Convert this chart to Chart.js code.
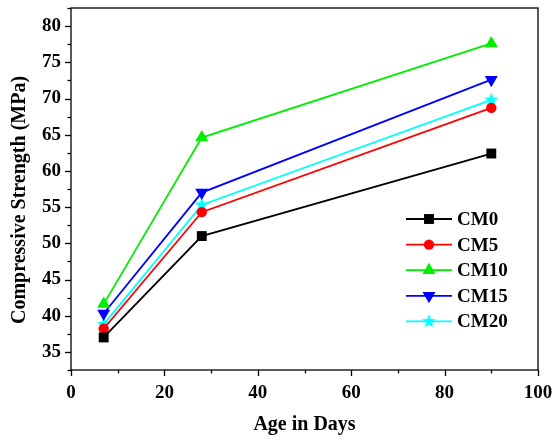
<!DOCTYPE html>
<html><head><meta charset="utf-8">
<script src="https://cdn.jsdelivr.net/npm/chart.js@4/dist/chart.umd.min.js"></script>
<style>html,body{margin:0;padding:0;background:#fff}#wrap{width:555px;height:441px}</style>
</head><body><div id="wrap"><canvas id="c" width="555" height="441"></canvas></div>
<script>
const ages = [7, 28, 90];
const seriesNames = ['CM0', 'CM5', 'CM10', 'CM15', 'CM20'];
const cm0 = [37.0, 51.0, 62.4];
const cm5 = [38.2, 54.3, 68.7];
const cm10 = [41.6, 64.6, 77.6];
const cm15 = [40.3, 57.0, 72.6];
const cm20 = [38.8, 55.3, 69.8];
const xMajorTicks = [0, 20, 40, 60, 80, 100];
const yMajorTicks = [35, 40, 45, 50, 55, 60, 65, 70, 75, 80];
const xTitle = 'Age in Days';
const yTitle = 'Compressive Strength (MPa)';

const FONT = '"Liberation Serif", "Times New Roman", serif';

function makeStar(color, r) {
  const s = Math.ceil(r * 2 + 2);
  const c = document.createElement('canvas');
  c.width = s; c.height = s;
  const g = c.getContext('2d');
  g.beginPath();
  for (let i = 0; i < 10; i++) {
    const a = -Math.PI / 2 + i * Math.PI / 5;
    const rr = i % 2 ? r * 0.42 : r;
    const x = s / 2 + rr * Math.cos(a), y = s / 2 + rr * Math.sin(a);
    if (i === 0) g.moveTo(x, y); else g.lineTo(x, y);
  }
  g.closePath();
  g.fillStyle = color;
  g.fill();
  return c;
}

const styles = [
  { color: '#000000', pointStyle: 'rect', radius: 7, rotation: 0 },
  { color: '#ff0000', pointStyle: 'circle', radius: 5.2, rotation: 0 },
  { color: '#00ee00', pointStyle: 'triangle', radius: 7.5, rotation: 0 },
  { color: '#0000ff', pointStyle: 'triangle', radius: 7.5, rotation: 180 },
  { color: '#00ffff', pointStyle: makeStar('#00ffff', 7.5), radius: 7.5, rotation: 0 }
];
const values = [cm0, cm5, cm10, cm15, cm20];

const datasets = seriesNames.map((name, i) => ({
  label: name,
  data: ages.map((a, j) => ({ x: a, y: values[i][j] })),
  borderColor: styles[i].color,
  backgroundColor: styles[i].color,
  borderWidth: 1.8,
  pointStyle: styles[i].pointStyle,
  pointRadius: styles[i].radius,
  pointRotation: styles[i].rotation,
  pointBorderWidth: 0,
  pointBackgroundColor: styles[i].color,
  tension: 0
}));

const frameAndTicks = {
  id: 'frameAndTicks',
  afterDraw(chart, args, opts) {
    const ctx = chart.ctx, a = chart.chartArea;
    ctx.save();
    ctx.strokeStyle = '#000';
    ctx.lineWidth = 1.3;
    ctx.strokeRect(a.left, a.top, a.right - a.left, a.bottom - a.top);
    const ys = chart.scales.y;
    ys.ticks.forEach(t => {
      const y = Math.round(ys.getPixelForValue(t.value)) + 0.5;
      const major = yMajorTicks.includes(t.value);
      const len = major ? 6 : 3.5;
      ctx.beginPath(); ctx.moveTo(a.left, y); ctx.lineTo(a.left - len, y); ctx.stroke();
    });
    const xs = chart.scales.x;
    xs.ticks.forEach(t => {
      const x = Math.round(xs.getPixelForValue(t.value)) + 0.5;
      const major = xMajorTicks.includes(t.value);
      const len = major ? 6 : 3.5;
      ctx.beginPath(); ctx.moveTo(x, a.bottom); ctx.lineTo(x, a.bottom + len); ctx.stroke();
    });
    // y axis title
    ctx.translate(opts.yTitleX, opts.yTitleY);
    ctx.rotate(-Math.PI / 2);
    ctx.fillStyle = '#000';
    ctx.font = 'bold 20px ' + FONT;
    ctx.textAlign = 'center';
    ctx.textBaseline = 'middle';
    ctx.fillText(yTitle, 0, 0);
    ctx.restore();
  }
};

const lineLegend = {
  id: 'lineLegend',
  afterDraw(chart, args, opts) {
    const ctx = chart.ctx;
    ctx.save();
    chart.data.datasets.forEach((ds, i) => {
      const y = opts.y + i * opts.rowH;
      ctx.strokeStyle = ds.borderColor;
      ctx.lineWidth = ds.borderWidth;
      ctx.beginPath(); ctx.moveTo(opts.x, y); ctx.lineTo(opts.x + opts.lineW, y); ctx.stroke();
      ctx.fillStyle = ds.pointBackgroundColor;
      ctx.strokeStyle = ds.borderColor;
      Chart.helpers.drawPoint(ctx, {
        pointStyle: ds.pointStyle, radius: ds.pointRadius, rotation: ds.pointRotation, borderWidth: 0
      }, opts.x + opts.lineW / 2, y);
      ctx.fillStyle = '#000';
      ctx.font = 'bold 19px ' + FONT;
      ctx.textBaseline = 'middle';
      ctx.fillText(ds.label, opts.x + opts.lineW + 5, y + 1);
    });
    ctx.restore();
  }
};

function zeroPad(s) { s.paddingTop = 0; s.paddingBottom = 0; s.paddingLeft = 0; s.paddingRight = 0; }

new Chart(document.getElementById('c'), {
  type: 'line',
  data: { datasets },
  plugins: [frameAndTicks, lineLegend],
  options: {
    responsive: false,
    animation: false,
    devicePixelRatio: 1,
    layout: { padding: { top: 8, right: 17, left: 0, bottom: 0 } },
    plugins: {
      legend: { display: false },
      tooltip: { enabled: false },
      lineLegend: { x: 406, y: 219, rowH: 25.6, lineW: 46 },
      frameAndTicks: { yTitleX: 20, yTitleY: 200 }
    },
    scales: {
      x: {
        type: 'linear', min: 0, max: 100,
        grid: { display: false, drawTicks: false },
        border: { display: false },
        afterFit(s) { s.height = 71; zeroPad(s); },
        ticks: {
          stepSize: 10, padding: 12, color: '#000', maxRotation: 0,
          font: { family: FONT, size: 19, weight: 'bold' },
          callback: v => xMajorTicks.includes(v) ? String(v) : ''
        },
        title: { display: true, text: xTitle, color: '#000', padding: { top: 11 },
          font: { family: FONT, size: 20, weight: 'bold' } }
      },
      y: {
        type: 'linear', min: 32.5, max: 82.5,
        grid: { display: false, drawTicks: false },
        border: { display: false },
        afterFit(s) { s.width = 71; zeroPad(s); },
        ticks: {
          stepSize: 2.5, padding: 10, color: '#000', autoSkip: false,
          font: { family: FONT, size: 19, weight: 'bold' },
          callback: v => yMajorTicks.includes(v) ? String(v) : ''
        },
        title: { display: false }
      }
    }
  }
});
</script>
</body></html>
